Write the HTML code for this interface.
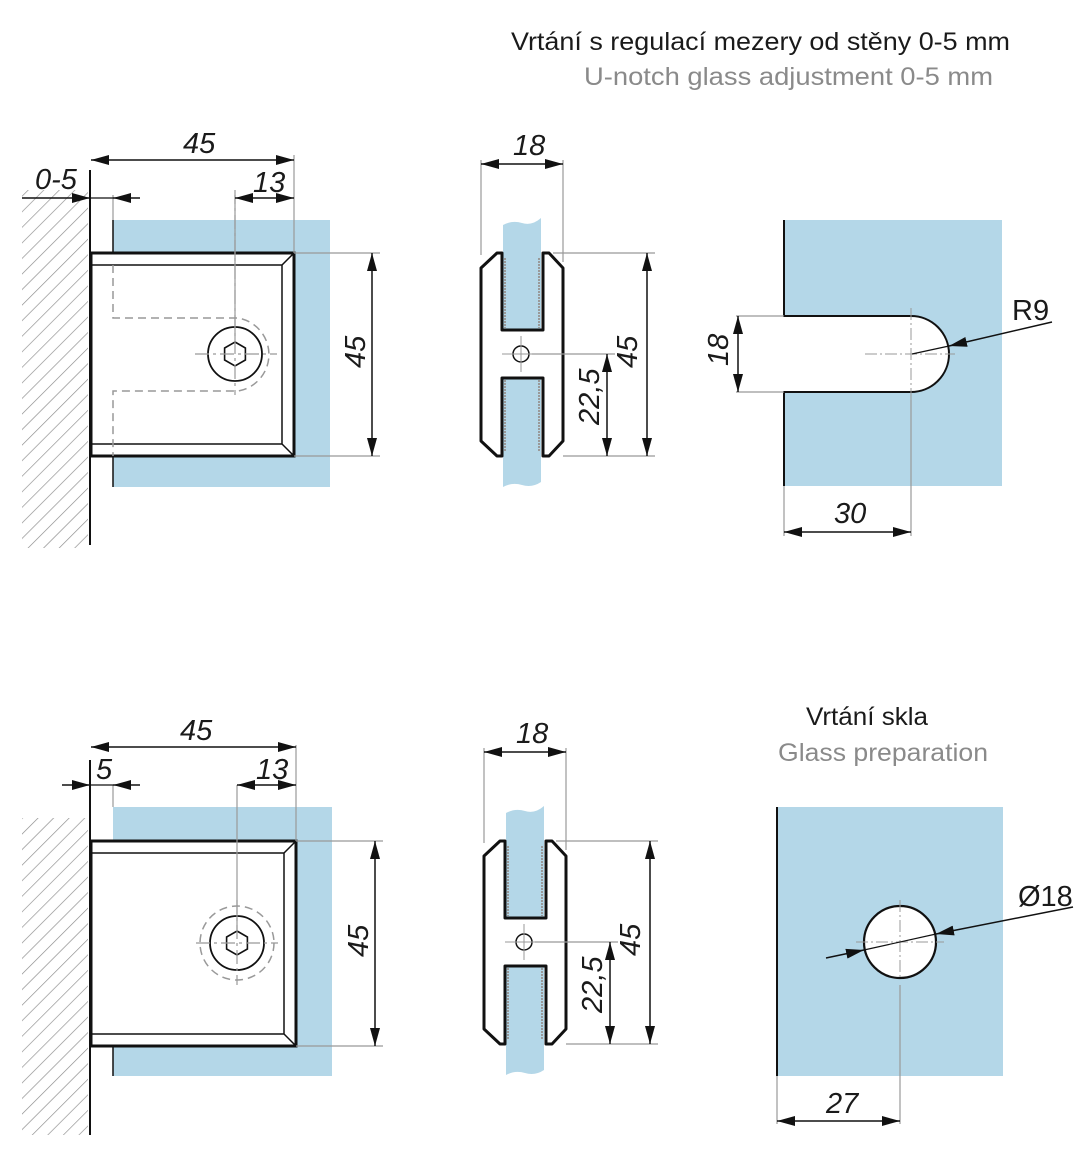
<!DOCTYPE html>
<html><head><meta charset="utf-8"><style>
html,body{margin:0;padding:0;background:#fff}
svg{display:block}
text{font-family:"Liberation Sans",sans-serif}
.dim{font-style:italic;font-size:29px;fill:#1a1a1a}
</style></head><body>
<svg width="1074" height="1164" viewBox="0 0 1074 1164" xmlns="http://www.w3.org/2000/svg">
<defs>
<marker id="a" viewBox="0 0 18 10" refX="18" refY="5" markerWidth="18" markerHeight="10" markerUnits="userSpaceOnUse" orient="auto-start-reverse"><path d="M0,0 L18,5 L0,10 Z" fill="#111"/></marker>
<pattern id="h" width="11" height="11" patternUnits="userSpaceOnUse" patternTransform="rotate(45)"><line x1="0" y1="0" x2="0" y2="11" stroke="#8a8a8a" stroke-width="1.3"/></pattern>
</defs>

<!-- titles -->
<text x="511" y="50" font-size="25" fill="#1a1a1a" textLength="499" lengthAdjust="spacingAndGlyphs">Vrtání s regulací mezery od stěny 0-5 mm</text>
<text x="584" y="85" font-size="25" fill="#8a8a8a" textLength="409" lengthAdjust="spacingAndGlyphs">U-notch glass adjustment 0-5 mm</text>
<text x="806" y="725" font-size="25" fill="#1a1a1a" textLength="122" lengthAdjust="spacingAndGlyphs">Vrtání skla</text>
<text x="778" y="761" font-size="25" fill="#8a8a8a" textLength="210" lengthAdjust="spacingAndGlyphs">Glass preparation</text>

<!-- ===== TOP LEFT ===== -->
<rect x="22" y="190" width="66" height="358" fill="url(#h)"/>
<rect x="113" y="220" width="217" height="267" fill="#b4d7e8"/>
<line x1="113" y1="220" x2="113" y2="487" stroke="#111" stroke-width="1.5"/>
<line x1="90" y1="170" x2="90" y2="545" stroke="#111" stroke-width="2"/>
<rect x="91" y="253" width="203" height="203" fill="#fff" stroke="#111" stroke-width="3"/>
<path d="M92,265 L282,265 L294,253 M282,265 L282,444 L294,456 M282,444 L92,444" fill="none" stroke="#111" stroke-width="1.5"/>
<path d="M113,265 L113,318 L238,318 A37,37 0 0 1 238,391 L113,391 L113,456" fill="none" stroke="#999" stroke-width="1.5" stroke-dasharray="8,5"/>
<circle cx="235" cy="354" r="27" fill="none" stroke="#111" stroke-width="1.8"/>
<polygon points="235,342 245.4,348 245.4,360 235,366 224.6,360 224.6,348" fill="none" stroke="#111" stroke-width="1.6"/>
<path d="M195,354 L277,354 M235,190 L235,395" stroke="#999" stroke-width="1.2" stroke-dasharray="14,4,3,4"/>
<line x1="235" y1="195" x2="235" y2="340" stroke="#999" stroke-width="1.2"/>
<!-- dims -->
<line x1="294" y1="155" x2="294" y2="253" stroke="#999" stroke-width="1.2"/>
<line x1="113" y1="195" x2="113" y2="220" stroke="#999" stroke-width="1.2"/>
<line x1="91" y1="160" x2="294" y2="160" stroke="#111" stroke-width="1.5" marker-start="url(#a)" marker-end="url(#a)"/>
<text x="183" y="153" class="dim">45</text>
<line x1="22" y1="198" x2="90" y2="198" stroke="#111" stroke-width="1.5" marker-end="url(#a)"/>
<line x1="140" y1="198" x2="113" y2="198" stroke="#111" stroke-width="1.5" marker-end="url(#a)"/>
<line x1="90" y1="198" x2="113" y2="198" stroke="#111" stroke-width="1.2"/>
<text x="35" y="189" class="dim">0-5</text>
<line x1="235" y1="198" x2="294" y2="198" stroke="#111" stroke-width="1.5" marker-start="url(#a)" marker-end="url(#a)"/>
<text x="253" y="192" class="dim">13</text>
<path d="M294,253 L380,253 M294,456 L380,456" stroke="#999" stroke-width="1.2"/>
<line x1="372" y1="253" x2="372" y2="456" stroke="#111" stroke-width="1.5" marker-start="url(#a)" marker-end="url(#a)"/>
<text transform="translate(365,368) rotate(-90)" class="dim">45</text>

<!-- ===== TOP SIDE ===== -->
<g id="side">
<path d="M503,330 L503,225 Q512,220 522,223 Q532,226 541,218 L541,330 Z" fill="#b4d7e8"/>
<path d="M503,378 L541,378 L541,482 Q532,488 522,485 Q512,482 503,487 Z" fill="#b4d7e8"/>
<path d="M505,258 L505,328 M539,258 L539,328 M505,380 L505,452 M539,380 L539,452" stroke="#999" stroke-width="2" stroke-dasharray="2,1"/>
<path d="M497,253 L481,268 L481,441 L497,456 L502,456 L502,378 L543,378 L543,456 L549,456 L563,441 L563,268 L549,253 L543,253 L543,330 L502,330 L502,253 Z" fill="none" stroke="#111" stroke-width="3" stroke-linejoin="round"/>
<circle cx="521" cy="354" r="8" fill="#fff" stroke="#111" stroke-width="1.5"/>
<path d="M502,354 L543,354 M521,336 L521,372" stroke="#999" stroke-width="1"/>
<path d="M481,160 L481,255 M563,160 L563,262" stroke="#999" stroke-width="1.2"/>
<line x1="481" y1="164" x2="563" y2="164" stroke="#111" stroke-width="1.5" marker-start="url(#a)" marker-end="url(#a)"/>
<text x="513" y="155" class="dim">18</text>
<path d="M553,253 L655,253 M563,456 L655,456 M532,354 L615,354" stroke="#999" stroke-width="1.2"/>
<line x1="647" y1="253" x2="647" y2="456" stroke="#111" stroke-width="1.5" marker-start="url(#a)" marker-end="url(#a)"/>
<line x1="607" y1="354" x2="607" y2="456" stroke="#111" stroke-width="1.5" marker-start="url(#a)" marker-end="url(#a)"/>
<text transform="translate(637,368) rotate(-90)" class="dim">45</text>
<text transform="translate(599,425) rotate(-90)" class="dim">22,5</text>
</g>

<!-- ===== TOP RIGHT ===== -->
<path d="M784,220 L1002,220 L1002,486 L784,486 L784,392 L911,392 A38,38 0 0 0 911,316 L784,316 Z" fill="#b4d7e8"/>
<path d="M784,220 L784,316 L911,316 A38,38 0 0 1 911,392 L784,392 L784,486" fill="none" stroke="#111" stroke-width="2"/>
<path d="M865,354 L955,354 M911,308 L911,400" stroke="#999" stroke-width="1" stroke-dasharray="12,3,2,3"/>
<path d="M736,316 L784,316 M736,392 L784,392 M911,400 L911,536 M784,486 L784,536" stroke="#999" stroke-width="1.2"/>
<line x1="738" y1="316" x2="738" y2="392" stroke="#111" stroke-width="1.5" marker-start="url(#a)" marker-end="url(#a)"/>
<text transform="translate(728,366) rotate(-90)" class="dim">18</text>
<line x1="784" y1="532" x2="911" y2="532" stroke="#111" stroke-width="1.5" marker-start="url(#a)" marker-end="url(#a)"/>
<text x="834" y="523" class="dim">30</text>
<line x1="1052" y1="322" x2="949" y2="346" stroke="#111" stroke-width="1.5" marker-end="url(#a)"/>
<line x1="949" y1="346" x2="912" y2="354" stroke="#111" stroke-width="1.2"/>
<text x="1012" y="320" font-size="29" fill="#1a1a1a">R9</text>

<!-- ===== BOTTOM LEFT ===== -->
<rect x="22" y="818" width="66" height="317" fill="url(#h)"/>
<rect x="113" y="807" width="219" height="269" fill="#b4d7e8"/>
<line x1="113" y1="1046" x2="113" y2="1076" stroke="#111" stroke-width="1.5"/>
<line x1="90" y1="760" x2="90" y2="1135" stroke="#111" stroke-width="2"/>
<rect x="91" y="841" width="205" height="205" fill="#fff" stroke="#111" stroke-width="3"/>
<path d="M92,853 L284,853 L296,841 M284,853 L284,1034 L296,1046 M284,1034 L92,1034" fill="none" stroke="#111" stroke-width="1.5"/>
<circle cx="237" cy="943" r="37" fill="none" stroke="#999" stroke-width="1.5" stroke-dasharray="8,5"/>
<circle cx="237" cy="943" r="27" fill="none" stroke="#111" stroke-width="1.8"/>
<polygon points="237,931 247.4,937 247.4,949 237,955 226.6,949 226.6,937" fill="none" stroke="#111" stroke-width="1.6"/>
<path d="M196,943 L278,943 M237,900 L237,985" stroke="#999" stroke-width="1.2" stroke-dasharray="14,4,3,4"/>
<line x1="237" y1="785" x2="237" y2="930" stroke="#999" stroke-width="1.2"/>
<path d="M296,745 L296,841 M113,785 L113,807" stroke="#999" stroke-width="1.2"/>
<line x1="91" y1="747" x2="296" y2="747" stroke="#111" stroke-width="1.5" marker-start="url(#a)" marker-end="url(#a)"/>
<text x="180" y="740" class="dim">45</text>
<line x1="62" y1="785" x2="90" y2="785" stroke="#111" stroke-width="1.5" marker-end="url(#a)"/>
<line x1="140" y1="785" x2="113" y2="785" stroke="#111" stroke-width="1.5" marker-end="url(#a)"/>
<line x1="90" y1="785" x2="113" y2="785" stroke="#111" stroke-width="1.2"/>
<text x="96" y="779" class="dim">5</text>
<line x1="237" y1="785" x2="296" y2="785" stroke="#111" stroke-width="1.5" marker-start="url(#a)" marker-end="url(#a)"/>
<text x="256" y="779" class="dim">13</text>
<path d="M296,841 L383,841 M296,1046 L383,1046" stroke="#999" stroke-width="1.2"/>
<line x1="375" y1="841" x2="375" y2="1046" stroke="#111" stroke-width="1.5" marker-start="url(#a)" marker-end="url(#a)"/>
<text transform="translate(368,957) rotate(-90)" class="dim">45</text>

<!-- ===== BOTTOM SIDE ===== -->
<use href="#side" transform="translate(3,588)"/>

<!-- ===== BOTTOM RIGHT ===== -->
<rect x="777" y="807" width="226" height="269" fill="#b4d7e8"/>
<line x1="777" y1="807" x2="777" y2="1076" stroke="#111" stroke-width="2"/>
<circle cx="900" cy="942" r="36" fill="#fff" stroke="#111" stroke-width="2.2"/>
<path d="M856,942 L944,942 M900,900 L900,978" stroke="#999" stroke-width="1" stroke-dasharray="12,3,2,3"/>
<path d="M900,985 L900,1124 M777,1076 L777,1124" stroke="#999" stroke-width="1.2"/>
<line x1="777" y1="1121" x2="900" y2="1121" stroke="#111" stroke-width="1.5" marker-start="url(#a)" marker-end="url(#a)"/>
<text x="826" y="1113" class="dim">27</text>
<line x1="826" y1="958" x2="864" y2="950" stroke="#111" stroke-width="1.5" marker-end="url(#a)"/>
<line x1="864" y1="950" x2="936" y2="934" stroke="#111" stroke-width="1.2"/>
<line x1="1073" y1="907" x2="936" y2="934" stroke="#111" stroke-width="1.5" marker-end="url(#a)"/>
<text x="1018" y="906" font-size="29" fill="#1a1a1a">Ø18</text>
</svg>
</body></html>
